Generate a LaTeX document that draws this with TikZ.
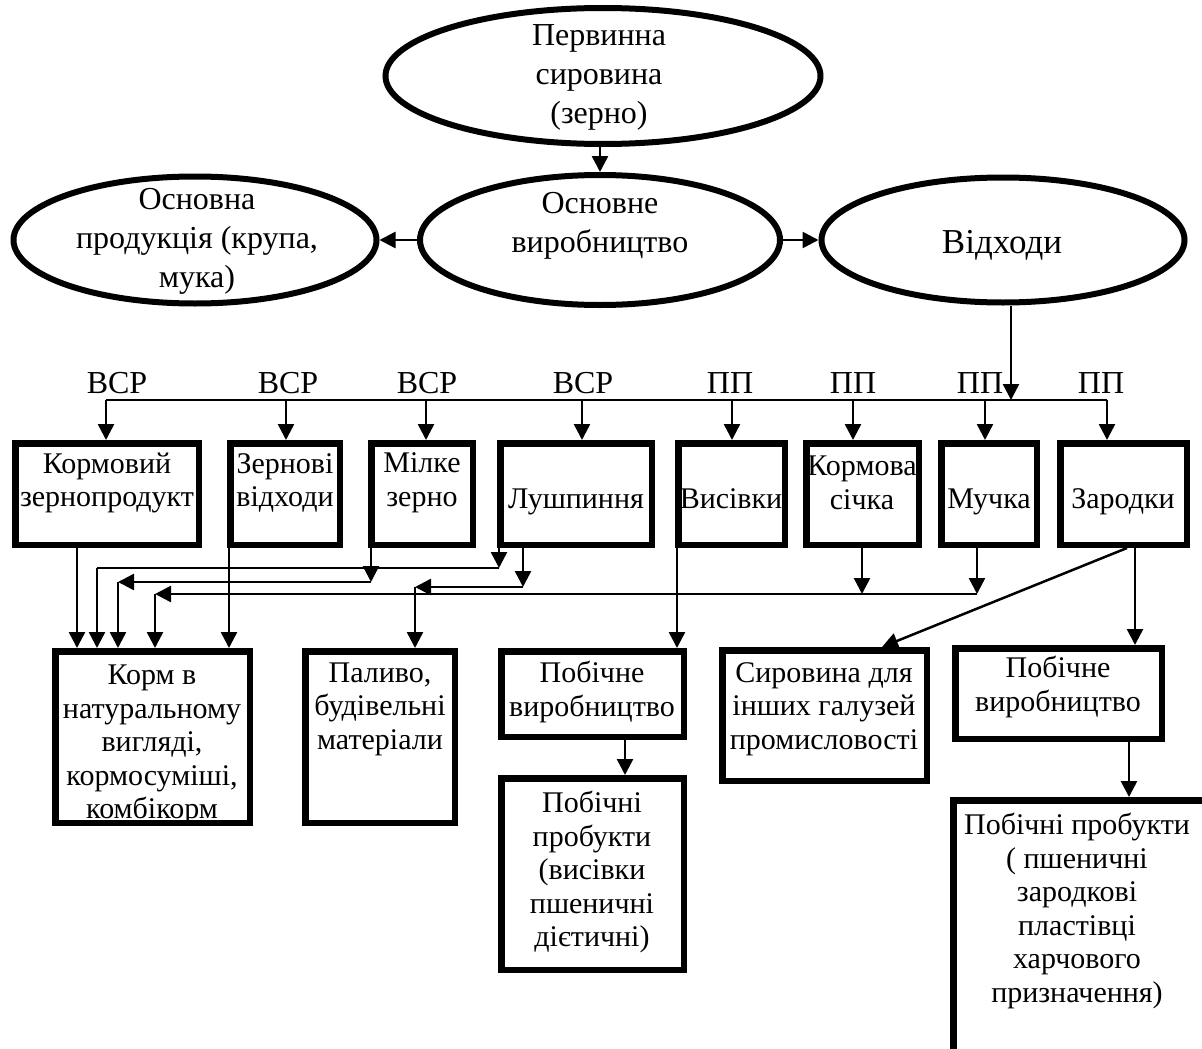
\documentclass[tikz,border=0pt]{standalone}
\usepackage{fontspec}
\setmainfont{Liberation Serif}
\usetikzlibrary{shapes.geometric,arrows.meta,calc,fit}
\newcommand\mkbox[5]{\node[box, fit={(#2+3.25,#3+3.25) (#4-3.25,#5-3.25)}] (#1) {};}
\begin{document}
\begin{tikzpicture}[x=1pt,y=-1pt,
  box/.style={draw, line width=6.5pt, inner sep=0pt, rectangle},
  ell/.style={draw, line width=6pt, ellipse, inner sep=0pt},
  arr/.style={line width=2.5pt, -{Triangle[length=16pt,width=16pt]}},
  ln/.style={line width=2.5pt},
  bt/.style={font=\fontsize{30}{33.5}\selectfont, align=center, inner sep=0pt},
  bs/.style={font=\fontsize{30}{33.5}\selectfont, inner sep=0pt, text height=20pt, text depth=7pt},
  et/.style={font=\fontsize{32}{39}\selectfont, align=center, inner sep=0pt},
  lab/.style={font=\fontsize{32}{36}\selectfont, inner sep=0pt}]
\useasboundingbox (0,0) rectangle (1202,1049);
\clip (0,0) rectangle (1202,1049);

% ---------- ellipses ----------
\node[ell, minimum width=435pt, minimum height=136pt] (top) at (603,76) {};
\node[ell, minimum width=360pt, minimum height=130pt] (mid) at (600,240) {};
\node[ell, minimum width=363pt, minimum height=127pt] (lft) at (195,240) {};
\node[ell, minimum width=363pt, minimum height=125pt] (rgt) at (1003,240) {};

\node[et] (ttop) at (599,77) {Первинна\\сировина\\(зерно)};
\node[et] (tlft) at (197,241) {Основна\\продукція (крупа,\\мука)};
\node[et] (tmid) at (600,226) {Основне\\виробництво};
\node[font=\fontsize{35}{40}\selectfont, inner sep=0pt] (trgt) at (1002,245) {Відходи};

\draw[arr] (top.south -| mid.north) -- (mid.north);
\draw[arr] (mid.west) -- (mid.west -| lft.east);
\draw[arr] (mid.east) -- (mid.east -| rgt.west);

% ---------- bus ----------
\coordinate (busL) at (106,400);
\coordinate (busR) at (1107,400);
\coordinate (vj) at (1011,400);
\draw[arr] (rgt.south -| vj) -- (vj);
\draw[ln] (busL) -- (busR);

\node[lab] (b1) at (117,383) {ВСР};
\node[lab] (b2) at (288,383) {ВСР};
\node[lab] (b3) at (427,383) {ВСР};
\node[lab] (b4) at (583,383) {ВСР};
\node[lab] (p1) at (730,383) {ПП};
\node[lab] (p2) at (853,383) {ПП};
\node[lab] (p3) at (980,383) {ПП};
\node[lab] (p4) at (1101,383) {ПП};

% ---------- texts of boxes ----------
\node[bt] (tkz) at (107,483) {Кормовий\\зернопродукт};
\node[bt] (tzv) at (285,483) {Зернові\\відходи};
\node[bt] (tmz) at (422,483) {Мілке\\зерно};
\node[bs] (tlu) at (576,502) {Лушпиння};
\node[bs] (tvy) at (731,502) {Висівки};
\node[bt] (tks) at (862,483) {Кормова\\січка};
\node[bs] (tmu) at (989,502) {Мучка};
\node[bs] (tza) at (1123,502) {Зародки};

\node[bt] (tkorm) at (152,745) {Корм в\\натуральному\\вигляді,\\кормосуміші,\\комбікорм};
\node[bt] (tpal) at (380,709) {Паливо,\\будівельні\\матеріали};
\node[bt] (tpv1) at (592,692) {Побічне\\виробництво};
\node[bt] (tpp1) at (592,872) {Побічні\\пробукти\\(висівки\\пшеничні\\дієтичні)};
\node[bt] (tsyr) at (824,709) {Сировина для\\інших галузей\\промисловості};
\node[bt] (tpv2) at (1058,687) {Побічне\\виробництво};
\node[bt] (tpp2) at (1077,911) {Побічні пробукти\\( пшеничні\\зародкові\\пластівці\\харчового\\призначення)};

% ---------- boxes ----------
\mkbox{kz}{12}{440}{202}{548}
\mkbox{zv}{227}{440}{343}{548}
\mkbox{mz}{368}{440}{476}{548}
\mkbox{lu}{497}{440}{655}{548}
\mkbox{vy}{675}{440}{788}{548}
\mkbox{ks}{803}{440}{922}{548}
\mkbox{mu}{938}{440}{1040}{548}
\mkbox{za}{1057}{440}{1190}{548}

\mkbox{korm}{52}{648}{253}{826}
\mkbox{pal}{302}{648}{458}{826}
\mkbox{pv1}{498}{648}{687}{740}
\mkbox{pp1}{498}{775}{687}{973}
\mkbox{syr}{719}{647}{930}{784}
\mkbox{pv2}{952}{645}{1165}{742}
\mkbox{pp2}{950}{797}{1215}{1065}

% ---------- drops from bus ----------
\foreach \n/\x in {kz/106, zv/286, mz/426, lu/582, vy/732, ks/853, mu/985, za/1107}
  \draw[arr] (\x,400) -- (\n.north -| \x,400);

% ---------- lower connectors ----------
\draw[arr] (kz.south -| 77,0) -- (korm.north -| 77,0);
\draw[arr] (zv.south -| 229,0) -- (korm.north -| 229,0);

\coordinate (l1) at (499,568);
\coordinate (l1k) at (97,568);
\draw[arr] (lu.south -| l1) -- (l1);
\draw[ln] (l1) -- (l1k);
\draw[arr] (l1k) -- (korm.north -| l1k);

\coordinate (m1) at (371,582);
\coordinate (m1k) at (118,582);
\draw[arr] (mz.south -| m1) -- (m1);
\draw[arr] (m1) -- (m1k);
\draw[arr] (m1k) -- (korm.north -| m1k);

\coordinate (l2) at (523,587);
\coordinate (l2p) at (415,587);
\draw[arr] (lu.south -| l2) -- (l2);
\draw[arr] (l2) -- (l2p);
\draw[arr] (l2p) -- (pal.north -| l2p);

\coordinate (u1) at (977,594);
\coordinate (u1k) at (155,594);
\coordinate (s1) at (862,594);
\draw[arr] (mu.south -| u1) -- (u1);
\draw[arr] (ks.south -| s1) -- (s1);
\draw[arr] (u1) -- (u1k);
\draw[arr] (u1k) -- (korm.north -| u1k);

\draw[arr] (vy.south -| 677,0) -- (pv1.north -| 677,0);
\draw[arr] (za.south -| 1135,0) -- (pv2.north -| 1135,0);
\draw[arr] (za.south -| 1127,0) -- (syr.north -| 882,0);
\draw[arr] (pv1.south -| 625,0) -- (pp1.north -| 625,0);
\draw[arr] (pv2.south -| 1129,0) -- (pp2.north -| 1129,0);
\end{tikzpicture}
\end{document}
